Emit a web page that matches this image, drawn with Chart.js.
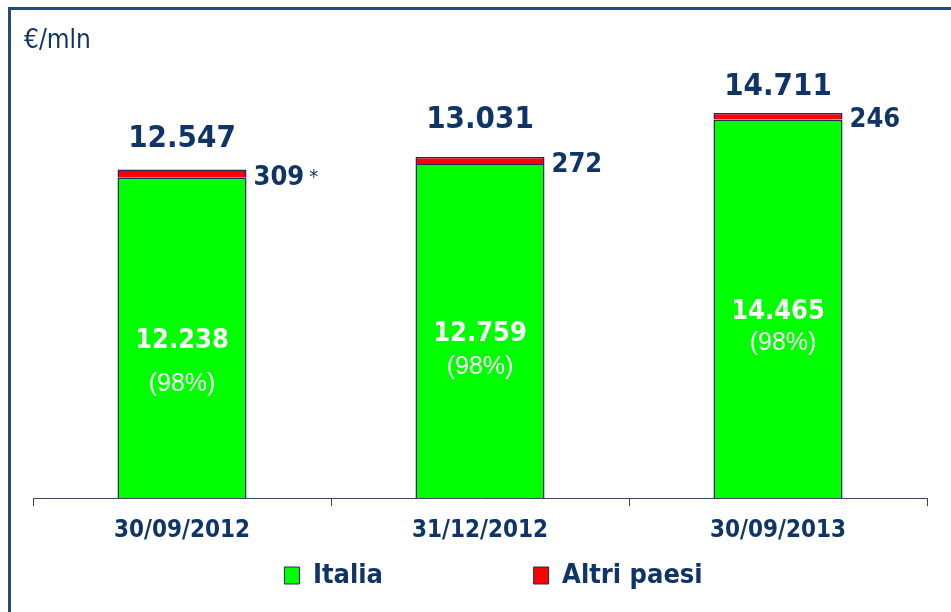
<!DOCTYPE html>
<html>
<head>
<meta charset="utf-8">
<script src="https://cdn.jsdelivr.net/npm/chart.js@4"></script>
<style>
  html, body { margin: 0; padding: 0; background: #ffffff; }
  #wrap { position: relative; width: 951px; height: 612px; }
</style>
</head>
<body>
<div id="wrap"><canvas id="c"></canvas></div>
<script>
// ---- data ----
const categories = ['30/09/2012', '31/12/2012', '30/09/2013'];
const italia = [12238, 12759, 14465];
const altriPaesi = [309, 272, 246];
const italiaShare = ['(98%)', '(98%)', '(98%)'];
const notes = ['*', '', ''];
const seriesNames = ['Italia', 'Altri paesi'];
const unitLabel = '€/mln';

// ---- label placement tweaks (styling, not data) ----
const totalGap = [23, 29, 18];
const shareGap = [45, 35, 33];
const shareShift = [0, 0, 5];

const NAVY = '#0f3466';
const COND = "'DejaVu Sans Condensed', 'DejaVu Sans', sans-serif";

function fmt(v) {
  return String(v).replace(/\B(?=(\d{3})+(?!\d))/g, '.');
}

const labelPlugin = {
  id: 'labels',
  beforeDraw(chart) {
    const ctx = chart.ctx;
    ctx.save();
    ctx.fillStyle = '#ffffff';
    ctx.fillRect(0, 0, chart.width, chart.height);
    ctx.strokeStyle = '#24497a';
    ctx.lineWidth = 3;
    ctx.beginPath();
    ctx.moveTo(9.5, chart.height);
    ctx.lineTo(9.5, 8.5);
    ctx.lineTo(chart.width, 8.5);
    ctx.stroke();
    ctx.fillStyle = NAVY;
    ctx.font = "26px " + COND;
    ctx.textAlign = 'left';
    ctx.textBaseline = 'alphabetic';
    ctx.fillText(unitLabel, 24, 48);
    ctx.restore();
  },
  afterDatasetsDraw(chart) {
    const ctx = chart.ctx;
    const g = chart.getDatasetMeta(0).data;
    const r = chart.getDatasetMeta(1).data;
    ctx.save();
    ctx.textBaseline = 'alphabetic';
    for (let i = 0; i < categories.length; i++) {
      const ge = g[i], re = r[i];
      const total = italia[i] + altriPaesi[i];
      // total above bar
      ctx.fillStyle = NAVY;
      ctx.textAlign = 'center';
      ctx.font = "bold 31px " + COND;
      ctx.fillText(fmt(total), re.x, re.y - totalGap[i]);
      // red value right of bar
      const rc = (re.y + re.base) / 2 + 1;
      const rx = re.x + re.width / 2 + 7;
      ctx.textAlign = 'left';
      ctx.font = "bold 27px " + COND;
      ctx.fillText(fmt(altriPaesi[i]), rx, rc + 10);
      if (notes[i]) {
        const w = ctx.measureText(fmt(altriPaesi[i])).width;
        ctx.font = "20px " + COND;
        ctx.fillText(notes[i], rx + w + 5, rc + 8);
      }
      // inside green bar
      const gc = (ge.y + ge.base) / 2;
      ctx.fillStyle = '#ffffff';
      ctx.textAlign = 'center';
      ctx.font = "bold 27px " + COND;
      ctx.fillText(fmt(italia[i]), ge.x, gc + 10);
      ctx.font = "25px 'Liberation Sans', Arial, sans-serif";
      ctx.fillText(italiaShare[i], ge.x + shareShift[i], gc + shareGap[i] + 8);
    }
    ctx.restore();
  }
};

new Chart(document.getElementById('c'), {
  type: 'bar',
  data: {
    labels: categories,
    datasets: [
      {
        label: seriesNames[0],
        data: italia,
        backgroundColor: '#00ff00',
        borderColor: '#1e2a5a',
        borderWidth: 1.5,
        categoryPercentage: 1,
        barPercentage: 0.433
      },
      {
        label: seriesNames[1],
        data: altriPaesi,
        backgroundColor: '#ff0000',
        borderColor: '#1e2a5a',
        borderWidth: 1.5,
        categoryPercentage: 1,
        barPercentage: 0.433
      }
    ]
  },
  options: {
    responsive: true,
    maintainAspectRatio: false,
    devicePixelRatio: 1,
    animation: false,
    layout: { padding: { left: 33, right: 24, top: 53, bottom: 13 } },
    scales: {
      x: {
        stacked: true,
        offset: true,
        grid: { offset: true, drawOnChartArea: false, tickLength: 8, color: '#3c4660', lineWidth: 1 },
        border: { display: true, color: '#3c4660', width: 1 },
        ticks: { color: NAVY, padding: 10, font: { family: COND, size: 24, weight: 'bold' } }
      },
      y: {
        stacked: true,
        display: false,
        min: 0,
        max: 17000
      }
    },
    plugins: {
      tooltip: { enabled: false },
      legend: {
        position: 'bottom',
        labels: {
          boxWidth: 15,
          boxHeight: 17,
          padding: 7,
          color: NAVY,
          font: { family: COND, size: 27, weight: 'bold' },
          generateLabels(chart) {
            const items = Chart.defaults.plugins.legend.labels.generateLabels(chart);
            items.forEach(it => { it.lineWidth = 1; });
            items[0].text = items[0].text + '                 ';
            items[items.length - 1].text = items[items.length - 1].text + ' ';
            // invisible spacer to nudge the centred legend to the right
            items.unshift({ text: '', fillStyle: 'rgba(0,0,0,0)', strokeStyle: 'rgba(0,0,0,0)',
              lineWidth: 0, hidden: false, datasetIndex: -1, fontColor: NAVY });
            return items;
          }
        },
        onClick: () => {}
      }
    }
  },
  plugins: [labelPlugin]
});
</script>
</body>
</html>
